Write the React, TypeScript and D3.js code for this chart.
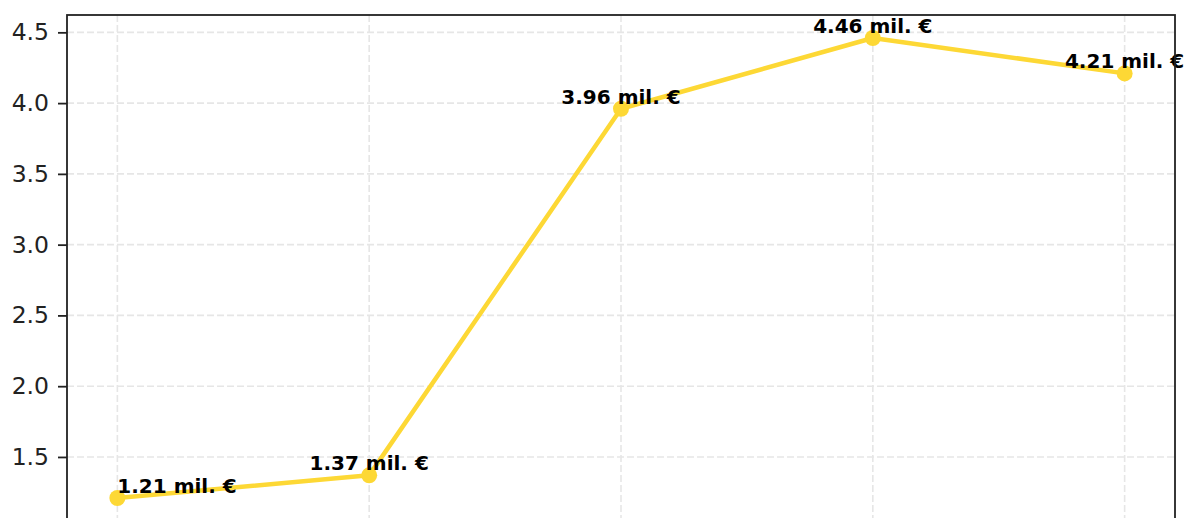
import { useEffect, useRef } from 'react';
import * as d3 from 'd3';

// x tick labels are cut off in the reference, so categories are just positions
const categories = ['P1', 'P2', 'P3', 'P4', 'P5'];
const values = [1.21, 1.37, 3.96, 4.46, 4.21];
const valueLabels = ['1.21 mil. €', '1.37 mil. €', '3.96 mil. €', '4.46 mil. €', '4.21 mil. €'];
const labelAnchors = ['start', 'middle', 'middle', 'middle', 'middle'];
const yTicks = [1.5, 2.0, 2.5, 3.0, 3.5, 4.0, 4.5];

const W = 1184;
const H = 518;

const LineChart = () => {
  const svgRef = useRef<SVGSVGElement>(null);

  useEffect(() => {
    if (!svgRef.current) return;

    const margin = { top: 15, right: 9, left: 67 };
    const plotBottom = 521; // plot runs a little past the bottom of the frame

    const svg = d3.select(svgRef.current);
    svg.selectAll('*').remove();

    const pad = (d3.max(values)! - d3.min(values)!) * 0.05;
    const x = d3.scaleLinear().domain([-0.2, categories.length - 0.8]).range([margin.left, W - margin.right]);
    const y = d3.scaleLinear()
      .domain([d3.min(values)! - pad, d3.max(values)! + pad])
      .range([plotBottom, margin.top]);

    // grid
    const grid = svg.append('g')
      .attr('stroke', '#e6e6e6')
      .attr('stroke-width', 1.6)
      .attr('stroke-dasharray', '7,3');

    grid.selectAll('line.h')
      .data(yTicks)
      .join('line')
      .attr('class', 'h')
      .attr('x1', margin.left).attr('x2', W - margin.right)
      .attr('y1', d => y(d)).attr('y2', d => y(d));

    grid.selectAll('line.v')
      .data(categories)
      .join('line')
      .attr('class', 'v')
      .attr('x1', (_, i) => x(i)).attr('x2', (_, i) => x(i))
      .attr('y1', margin.top).attr('y2', plotBottom);

    // line + markers
    const line = d3.line<number>()
      .x((_, i) => x(i))
      .y(d => y(d));

    svg.append('path')
      .datum(values)
      .attr('fill', 'none')
      .attr('stroke', '#fdd835')
      .attr('stroke-width', 4.5)
      .attr('stroke-linejoin', 'round')
      .attr('d', line);

    svg.append('g')
      .selectAll('circle')
      .data(values)
      .join('circle')
      .attr('cx', (_, i) => x(i))
      .attr('cy', d => y(d))
      .attr('r', 8)
      .attr('fill', '#fdd835');

    // value labels
    svg.append('g')
      .attr('font-family', '"DejaVu Sans", sans-serif')
      .attr('font-weight', 'bold')
      .attr('font-size', 20)
      .attr('fill', '#000')
      .selectAll('text')
      .data(values)
      .join('text')
      .attr('x', (_, i) => x(i))
      .attr('y', d => y(d) - 5)
      .attr('text-anchor', (_, i) => labelAnchors[i])
      .text((_, i) => valueLabels[i]);

    // y axis
    const yAxis = svg.append('g')
      .attr('transform', `translate(${margin.left},0)`)
      .call(d3.axisLeft(y).tickValues(yTicks).tickFormat(d3.format('.1f')).tickSize(9).tickPadding(9));
    yAxis.select('.domain').remove();
    yAxis.selectAll('line').attr('stroke', '#222').attr('stroke-width', 1.8);
    yAxis.selectAll('text')
      .attr('font-family', '"DejaVu Sans", sans-serif')
      .attr('font-size', 23.5)
      .attr('fill', '#222');

    // frame
    svg.append('rect')
      .attr('x', margin.left)
      .attr('y', margin.top)
      .attr('width', W - margin.right - margin.left)
      .attr('height', plotBottom - margin.top)
      .attr('fill', 'none')
      .attr('stroke', '#222')
      .attr('stroke-width', 1.8);
  }, []);

  return (
    <svg
      ref={svgRef}
      width={W}
      height={H}
      style={{ position: 'absolute', left: 0, top: 0, background: '#fff' }}
    />
  );
};

export default function App() {
  return <LineChart />;
}
